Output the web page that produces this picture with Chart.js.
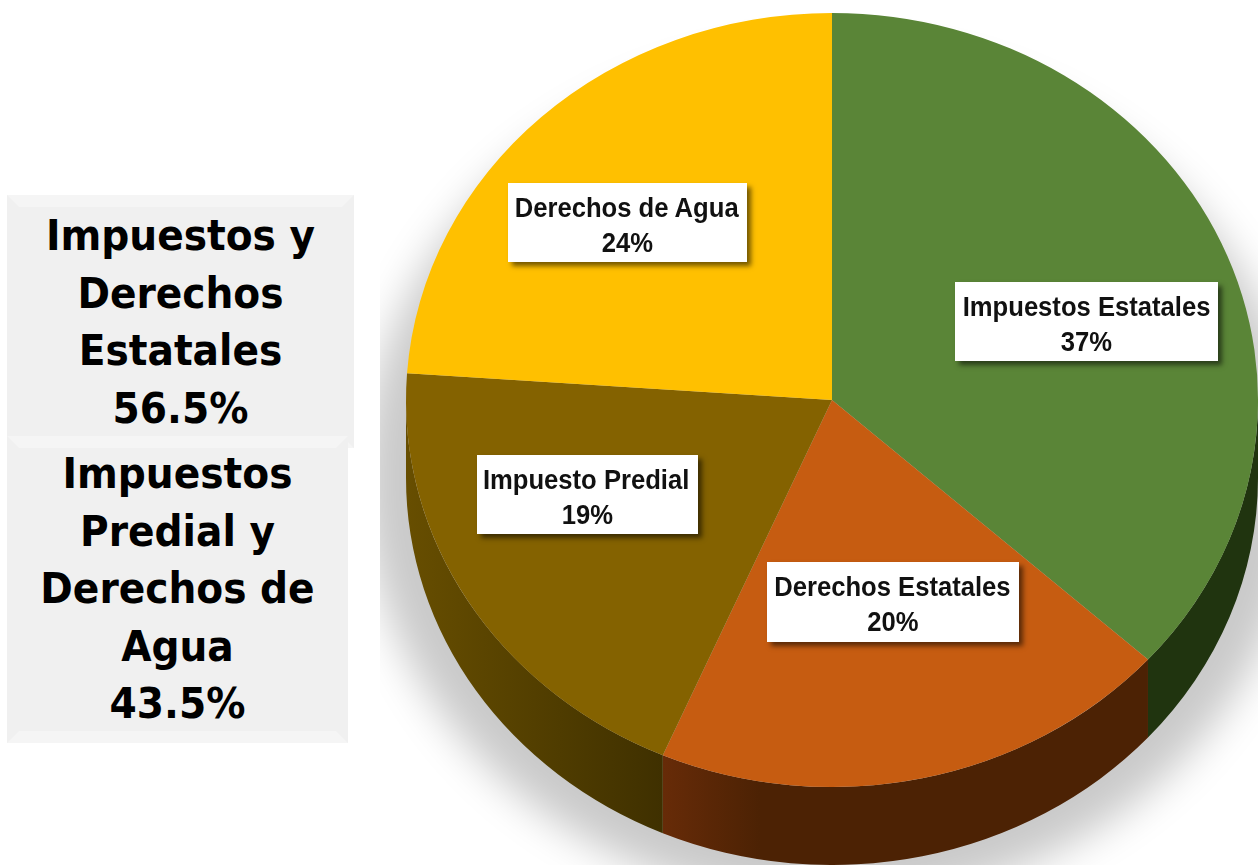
<!DOCTYPE html>
<html>
<head>
<meta charset="utf-8">
<script src="https://cdn.jsdelivr.net/npm/chart.js@4"></script>
<style>
body { margin: 0; background: #fff; width: 1258px; height: 865px; overflow: hidden; position: relative; }
canvas { position: absolute; left: 0; top: 0; }
.side-box {
    position: absolute; box-sizing: border-box; background: #f0f0f0;
    border: 12px solid #f0f0f0; border-top-color: #f5f5f5; border-bottom-color: #f5f5f5;
    font-family: "DejaVu Sans Condensed", "DejaVu Sans"; font-stretch: condensed; font-weight: bold;
    font-size: 43.5px; line-height: 57.6px; text-align: center; color: #000; white-space: nowrap;
}
#box1 { left: 7px; top: 195px; width: 347px; height: 253px; }
#box2 { left: 7px; top: 436px; width: 341px; height: 307px; margin-top: 0; }
#box2 div { margin-top: -3px; }
.slice-label {
    position: absolute; box-sizing: border-box; background: #fff;
    box-shadow: 4px 4px 5px rgba(0,0,0,.55);
    font-family: "Liberation Sans"; font-weight: bold;
    font-size: 28px; line-height: 35px; text-align: center; color: #111; padding-top: 7px; white-space: nowrap;
}
.slice-label span { display: block; transform: scaleX(0.915); }
.slice-label span.name { transform: translateX(-3.5px) scaleX(0.915); }
</style>
</head>
<body>
<canvas id="pie" width="1258" height="865"></canvas>
<div class="side-box" id="box1"></div>
<div class="side-box" id="box2"></div>
<script>
const categories = ['Impuestos Estatales', 'Derechos Estatales', 'Impuesto Predial', 'Derechos de Agua'];
const shares = [36.7, 19.8, 19.6, 23.9];
const shareLabels = ['37%', '20%', '19%', '24%'];
const groupOne = ['Impuestos y', 'Derechos', 'Estatales', '56.5%'];
const groupTwo = ['Impuestos', 'Predial y', 'Derechos de', 'Agua', '43.5%'];

const sliceColors = ['#5a8537', '#c65c11', '#846200', '#ffc000'];
// wall colours, left to right
const wallStops = [
    [[0, '#20340f'], [1, '#20340f']],
    [[0, '#672b08'], [0.2, '#4c2204'], [1, '#4c2204']],
    [[0, '#674e00'], [1, '#3f3000']],
    [[0, '#806000'], [1, '#806000']]
];
const labelBoxes = [[955, 282, 263, 79], [767, 562, 252, 80], [477, 455, 221, 79], [508, 183, 239, 79]];

const centerY = 400;
const squash = 387 / 426;
const depth = 78;

document.getElementById('box1').innerHTML = groupOne.join('<br>');
document.getElementById('box2').innerHTML = '<div>' + groupTwo.join('<br>') + '</div>';

categories.forEach((name, i) => {
    const div = document.createElement('div');
    const b = labelBoxes[i];
    div.className = 'slice-label';
    div.style.cssText = `left:${b[0]}px;top:${b[1]}px;width:${b[2]}px;height:${b[3]}px`;
    div.innerHTML = `<span class="name">${name}</span><span>${shareLabels[i]}</span>`;
    document.body.appendChild(div);
});

const pie3d = {
    id: 'pie3d',
    beforeDatasetsDraw(chart) {
        const ctx = chart.ctx;
        const arcs = chart.getDatasetMeta(0).data;
        const cx = arcs[0].x, cy = arcs[0].y, r = arcs[0].outerRadius;

        // soft shadow, cut off at the text column like the original
        ctx.save();
        ctx.beginPath();
        ctx.rect(380, 0, 878, 865);
        ctx.clip();
        ctx.shadowColor = 'rgba(0,0,0,0.21)';
        ctx.shadowBlur = 40;
        ctx.shadowOffsetX = 3000;
        ctx.fillStyle = '#000';
        ctx.beginPath();
        ctx.ellipse(cx - 3000, centerY + 78, r + 42, r * squash + 38, 0, 0, Math.PI * 2);
        ctx.fill();
        ctx.restore();

        ctx.save();
        ctx.translate(cx, centerY);
        ctx.scale(1, squash);
        ctx.translate(-cx, -cy);

        arcs.forEach((arc, i) => {
            const a0 = Math.max(arc.startAngle, 0);
            const a1 = Math.min(arc.endAngle, Math.PI);
            if (a1 <= a0) return;
            const d = depth / squash;
            const xLeft = cx + r * Math.cos(a1), xRight = cx + r * Math.cos(a0);
            const grad = ctx.createLinearGradient(xLeft, 0, xRight, 0);
            wallStops[i].forEach(s => grad.addColorStop(s[0], s[1]));
            ctx.fillStyle = grad;
            ctx.beginPath();
            ctx.arc(cx, cy, r, a0, a1);
            ctx.arc(cx, cy + d, r, a1, a0, true);
            ctx.closePath();
            ctx.fill();
        });
    },
    afterDatasetsDraw(chart) {
        chart.ctx.restore();
    }
};

new Chart(document.getElementById('pie').getContext('2d'), {
    type: 'pie',
    data: {
        labels: categories,
        datasets: [{ data: shares, backgroundColor: sliceColors, borderWidth: 0, clip: false }]
    },
    options: {
        responsive: false,
        animation: false,
        events: [],
        layout: { padding: { left: 406, top: 0, right: 0, bottom: 13 } },
        plugins: { legend: { display: false }, tooltip: { enabled: false } }
    },
    plugins: [pie3d]
});
</script>
</body>
</html>
